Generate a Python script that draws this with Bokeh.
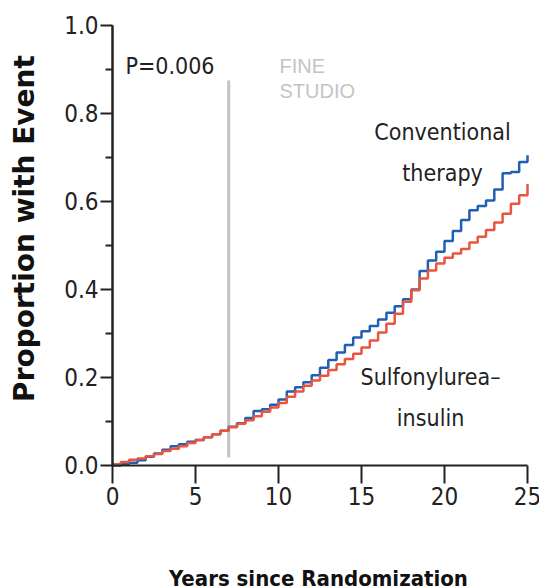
import math
from bokeh.plotting import figure
from bokeh.models import Range1d, FixedTicker, LinearAxis
from bokeh.core.properties import value
from bokeh.embed import file_html
from bokeh.resources import INLINE

# ---- data ----
years = [0.0, 0.5, 1.0, 1.5, 2.0, 2.5, 3.0, 3.5, 4.0, 4.5, 5.0, 5.5, 6.0, 6.5, 7.0, 7.5,
         8.0, 8.5, 9.0, 9.5, 10.0, 10.5, 11.0, 11.5, 12.0, 12.5, 13.0, 13.5, 14.0, 14.5,
         15.0, 15.5, 16.0, 16.5, 17.0, 17.5, 18.0, 18.5, 19.0, 19.5, 20.0, 20.5, 21.0,
         21.5, 22.0, 22.5, 23.0, 23.5, 24.0, 24.5, 25.0]
conventional = [0.000, 0.003, 0.006, 0.012, 0.020, 0.027, 0.036, 0.044, 0.048, 0.054,
                0.058, 0.064, 0.071, 0.079, 0.088, 0.096, 0.108, 0.124, 0.128, 0.138,
                0.150, 0.168, 0.178, 0.189, 0.205, 0.222, 0.240, 0.257, 0.274, 0.291,
                0.305, 0.317, 0.332, 0.347, 0.362, 0.378, 0.400, 0.442, 0.466, 0.486,
                0.510, 0.533, 0.558, 0.580, 0.590, 0.602, 0.627, 0.664, 0.667, 0.690, 0.705]
sulfonylurea_insulin = [0.003, 0.008, 0.013, 0.016, 0.021, 0.026, 0.033, 0.038, 0.044, 0.051,
                        0.058, 0.064, 0.071, 0.079, 0.087, 0.095, 0.103, 0.112, 0.122, 0.132,
                        0.142, 0.156, 0.168, 0.181, 0.193, 0.204, 0.217, 0.230, 0.242, 0.254,
                        0.268, 0.284, 0.302, 0.322, 0.345, 0.372, 0.398, 0.425, 0.443, 0.459,
                        0.472, 0.482, 0.492, 0.507, 0.520, 0.535, 0.552, 0.572, 0.595, 0.614, 0.640]
x_ticks = [0, 5, 10, 15, 20, 25]
x_tick_labels = ["0", "5", "10", "15", "20", "25"]
y_ticks = [0.0, 0.2, 0.4, 0.6, 0.8, 1.0]
y_minor = [0.1, 0.3, 0.5, 0.7, 0.9]
y_tick_labels = ["0.0", "0.2", "0.4", "0.6", "0.8", "1.0"]
marker_year = 7.0
p_value_text = "P=0.006"
x_title = "Years since Randomization"
y_title = "Proportion with Event"

COND = "DejaVu Sans Condensed"
BLUE = "#1f5fb5"
RED = "#e9553d"
INK = "#222222"

# the frame fills the page; the data box 0..25 x 0..1 sits where the reference has it
p = figure(width=539, height=587, output_backend="svg", toolbar_location=None,
           x_range=Range1d(-6.747, 25.723), y_range=Range1d(-0.2773, 1.0568),
           x_axis_location=None, y_axis_location=None,
           min_border_left=0, min_border_right=0, min_border_top=0, min_border_bottom=0)
p.outline_line_color = None
p.grid.visible = False
p.background_fill_color = "white"
p.border_fill_color = "white"


def origin_axis(ticks, length, x_dim):
    """Axis line through the origin; its tick marks point out of the data box."""
    ax = LinearAxis(ticker=FixedTicker(ticks=[], minor_ticks=ticks), fixed_location=0,
                    bounds=(0, 25) if x_dim else (0, 1))
    ax.axis_line_color = INK
    ax.axis_line_width = 2
    ax.major_tick_line_color = None
    ax.minor_tick_line_color = INK
    ax.minor_tick_line_width = 2
    ax.minor_tick_in = length
    ax.minor_tick_out = 0
    ax.major_tick_in = 0
    ax.major_tick_out = 0
    ax.major_label_standoff = 0
    ax.major_label_text_font_size = "1px"
    return ax


p.add_layout(origin_axis(x_ticks, 18, True), "above")
p.add_layout(origin_axis(y_ticks, 12, False), "right")
p.add_layout(origin_axis(y_minor, 7, False), "right")

# reference line
p.segment(x0=[marker_year], y0=[0.018], x1=[marker_year], y1=[0.875],
          line_color="#c4c4c4", line_width=3)

p.step(years, conventional, mode="after", line_color=BLUE, line_width=2.5)
p.step(years, sulfonylurea_insulin, mode="after", line_color=RED, line_width=2.5)

# tick numbers
p.text(x=x_ticks, y=[-0.048] * len(x_ticks), text=x_tick_labels, text_font=value(COND),
       text_font_size="24px", text_color=INK, text_align="center", text_baseline="top")
p.text(x=[-0.84] * len(y_ticks), y=y_ticks, text=y_tick_labels, text_font=value(COND),
       text_font_size="24px", text_color=INK, text_align="right", text_baseline="middle")

# axis titles
p.text(x=[12.41], y=[-0.256], text=[x_title], text_font=value(COND), text_font_style="bold",
       text_font_size="22px", text_color="#111111", text_align="center", text_baseline="alphabetic")
p.text(x=[-5.30], y=[0.5386], text=[y_title], angle=math.pi / 2, text_font=value("DejaVu Sans"),
       text_font_style="bold", text_font_size="28px", text_color="#111111",
       text_align="center", text_baseline="middle")

# annotations
p.text(x=[0.78], y=[0.909], text=[p_value_text], text_font=value(COND),
       text_font_size="23px", text_color=INK, text_baseline="alphabetic", text_align="left")
p.text(x=[19.88, 19.88], y=[0.757, 0.664], text=["Conventional", "therapy"],
       text_font=value(COND), text_font_size="23px", text_color=INK,
       text_baseline="alphabetic", text_align="center")
p.text(x=[19.16, 19.16], y=[0.202, 0.107], text=["Sulfonylurea\u2013", "insulin"],
       text_font=value(COND), text_font_size="23px", text_color=INK,
       text_baseline="alphabetic", text_align="center")
p.text(x=[10.06, 10.06], y=[0.909, 0.85], text=["FINE", "STUDIO"],
       text_font=value("Liberation Sans"), text_font_size="20px", text_color="#c4c4c4",
       text_baseline="alphabetic", text_align="left")

open("out.html", "w").write(file_html(p, INLINE))
